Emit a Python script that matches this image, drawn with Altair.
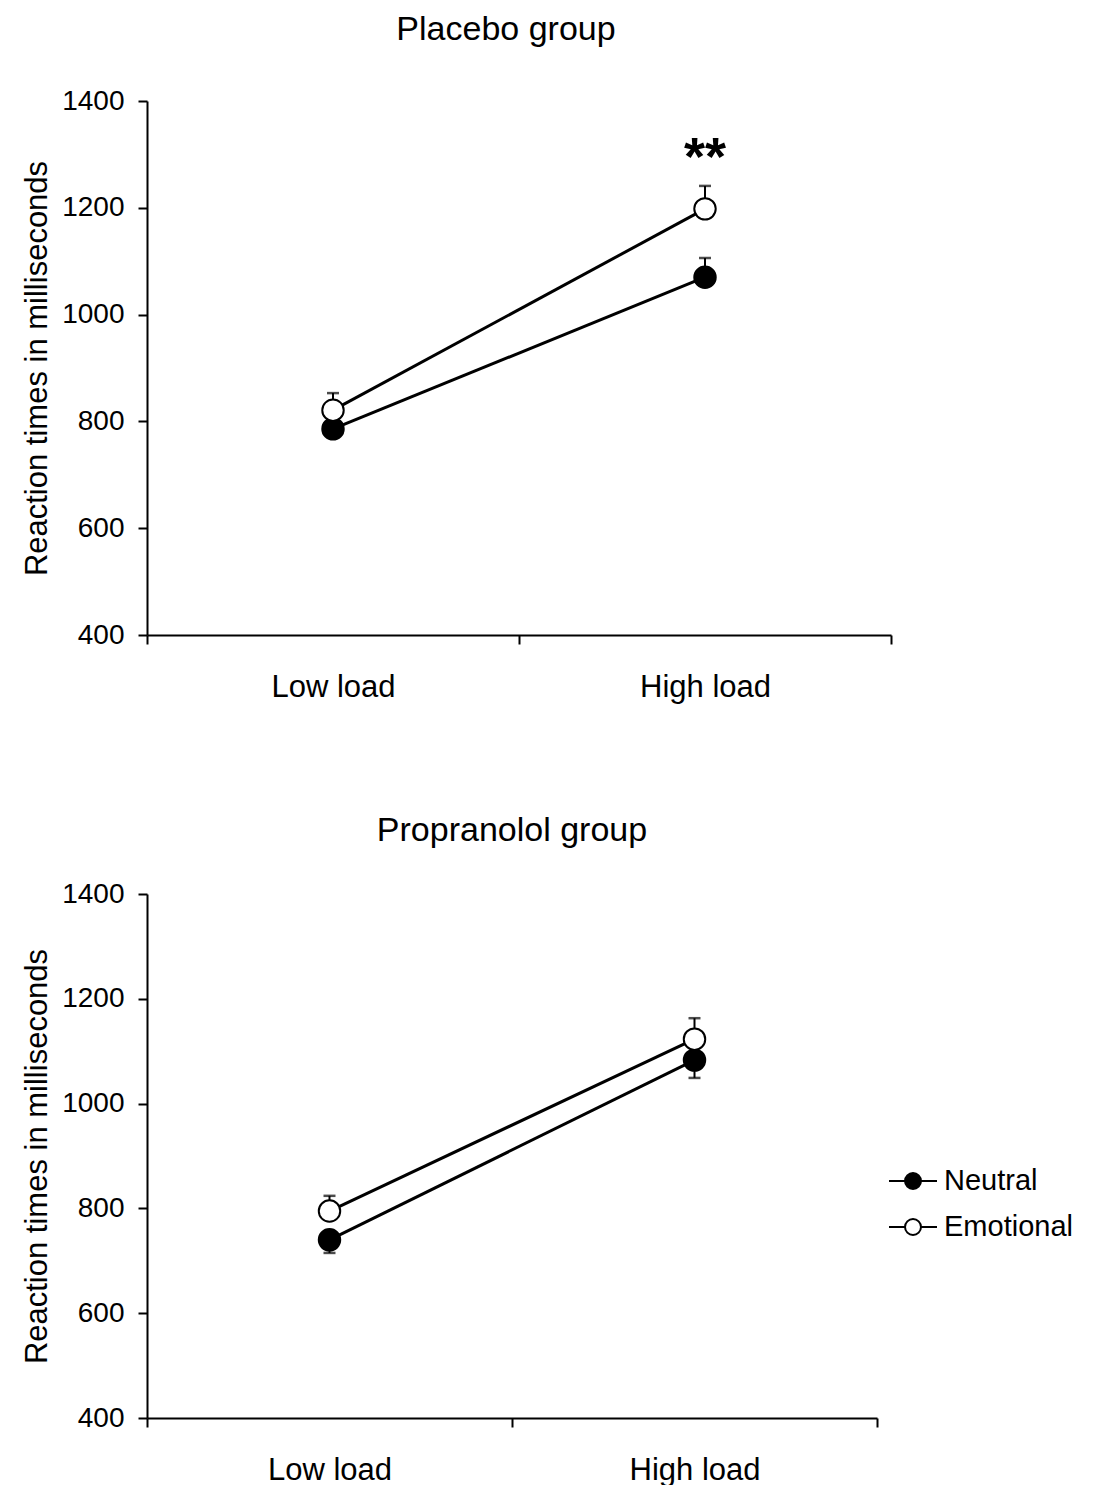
import altair as alt
import pandas as pd

# ---- data ----
loads = ["Low load", "High load"]
conditions = ["Neutral", "Emotional"]

placebo_neutral = [786, 1070]
placebo_neutral_se = [18, 36]
placebo_emotional = [821, 1198]
placebo_emotional_se = [32, 43]

propranolol_neutral = [740, 1083]
propranolol_neutral_se = [25, 34]
propranolol_emotional = [795, 1123]
propranolol_emotional_se = [29, 40]

# direction in which each error bar is drawn (+1 up, -1 down)
placebo_dir = {"Neutral": 1, "Emotional": 1}
propranolol_dir = {"Neutral": -1, "Emotional": 1}

y_ticks = [400, 600, 800, 1000, 1200, 1400]

sig_label = ["**"]
sig_load = ["High load"]
sig_y = [1262]

FONT = "Liberation Sans"


def make_df(neutral, neutral_se, emotional, emotional_se, dirs):
    rows = []
    for cond, means, ses in [("Neutral", neutral, neutral_se),
                             ("Emotional", emotional, emotional_se)]:
        for load, m, s in zip(loads, means, ses):
            rows.append({"load": load, "condition": cond, "rt": m,
                         "err_end": m + dirs[cond] * s})
    return pd.DataFrame(rows)


placebo_df = make_df(placebo_neutral, placebo_neutral_se,
                     placebo_emotional, placebo_emotional_se, placebo_dir)
prop_df = make_df(propranolol_neutral, propranolol_neutral_se,
                  propranolol_emotional, propranolol_emotional_se, propranolol_dir)
annot_df = pd.DataFrame({"load": sig_load, "rt": sig_y, "label": sig_label})

legend_symbol = ("M-1,0L-0.333,0 M0.333,0L1,0 "
                 "M0.333,0 A0.333,0.333 0 1,1 -0.333,0 "
                 "A0.333,0.333 0 1,1 0.333,0 Z")


def panel(df, title, w, h, title_offset, title_dx, show_legend, annot=None):
    xs = alt.Scale(type="band", domain=loads, paddingInner=0, paddingOuter=0)
    x = alt.X("load:N", sort=loads, scale=xs,
              axis=alt.Axis(title=None, tickBand="extent", labelAngle=0,
                            labelFontSize=31, labelPadding=28, tickSize=9))
    ys = alt.Scale(domain=[400, 1400], nice=False, zero=False)
    y = alt.Y("rt:Q", scale=ys,
              axis=alt.Axis(title="Reaction times in milliseconds",
                            values=y_ticks, format="d", labelFontSize=28,
                            labelPadding=14, titleFontSize=31,
                            titleFontWeight="normal", titlePadding=8,
                            tickSize=9))
    base = alt.Chart(df)
    lines = base.mark_line(color="black", strokeWidth=3).encode(
        x=x, y=y, detail="condition:N")
    rules = base.mark_rule(color="black", strokeWidth=2).encode(
        x=x, y=y, y2="err_end:Q")
    caps = base.mark_tick(color="black", size=12, thickness=2.5).encode(
        x=x, y=alt.Y("err_end:Q", scale=ys))
    if show_legend:
        leg = alt.Legend(title=None, orient="none", legendX=741, legendY=262,
                         symbolType=legend_symbol, symbolSize=2304,
                         symbolStrokeColor="black", symbolStrokeWidth=2,
                         labelFontSize=29, labelOffset=6, padding=0,
                         rowPadding=6, labelColor="black")
    else:
        leg = None
    fill = alt.Fill("condition:N",
                    scale=alt.Scale(domain=conditions, range=["black", "white"]),
                    legend=leg)
    points = base.mark_point(filled=True, shape="circle", size=460,
                             stroke="black", strokeWidth=2, opacity=1).encode(
        x=x, y=y, fill=fill)
    layers = [lines, rules, caps, points]
    if annot is not None:
        text = alt.Chart(annot).mark_text(fontSize=54, fontWeight="bold",
                                          baseline="alphabetic", color="black").encode(
            x=x, y=alt.Y("rt:Q", scale=ys), text="label:N")
        layers.append(text)
    return alt.layer(*layers).properties(
        width=w, height=h,
        title=alt.TitleParams(title, fontSize=34, fontWeight="normal",
                              offset=title_offset, dx=title_dx,
                              anchor="middle", color="black"))


top = panel(placebo_df, "Placebo group", 744, 534, 40, -13, False, annot_df)
bottom = panel(prop_df, "Propranolol group", 730, 524, 32, 0, True)

chart = alt.vconcat(top, bottom, spacing=112).resolve_scale(
    fill="independent").properties(
    padding={"left": 13, "top": 5, "right": 5, "bottom": 0}
).configure(font=FONT).configure_view(stroke=None).configure_axis(
    grid=False, domainColor="black", domainWidth=2, tickColor="black",
    tickWidth=2, labelColor="black", titleColor="black")

chart.save("out.html", embed_options={"renderer": "svg", "actions": False})
